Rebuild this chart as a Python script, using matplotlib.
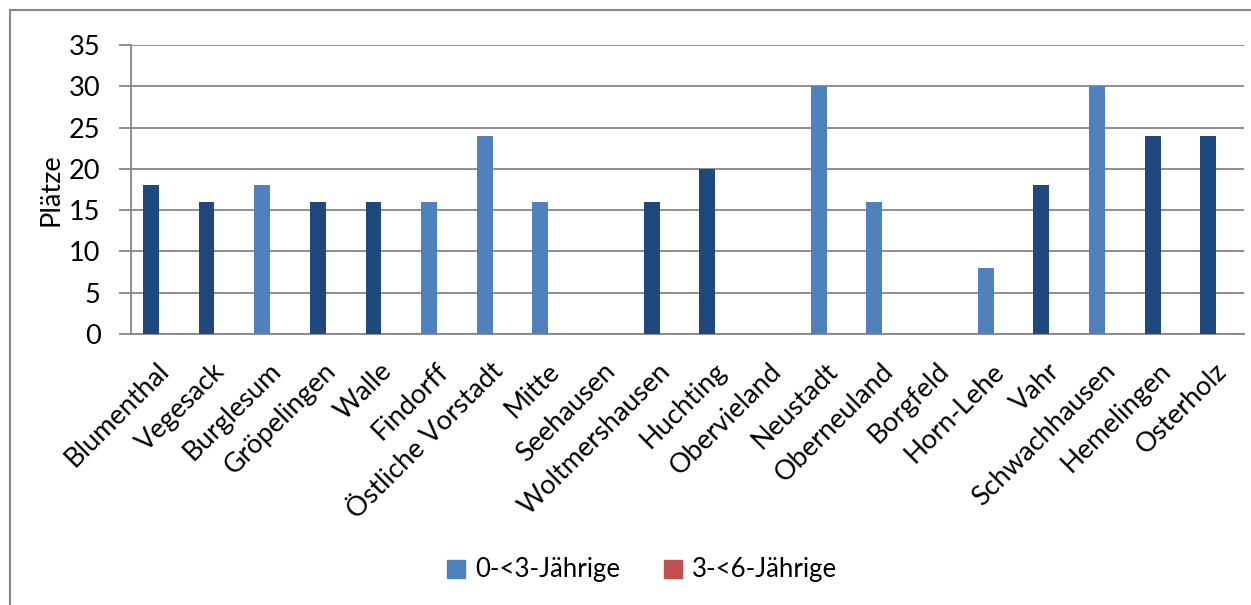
import numpy as np
import matplotlib.pyplot as plt
import matplotlib.transforms as mtransforms
from matplotlib.patches import Patch, Rectangle

# Data
stadtteile = ["Blumenthal", "Vegesack", "Burglesum", "Gröpelingen", "Walle", "Findorff",
              "Östliche Vorstadt", "Mitte", "Seehausen", "Woltmershausen", "Huchting",
              "Obervieland", "Neustadt", "Oberneuland", "Borgfeld", "Horn-Lehe", "Vahr",
              "Schwachhausen", "Hemelingen", "Osterholz"]
plaetze_u3 = [18, 16, 18, 16, 16, 16, 24, 16, 0, 16, 20, 0, 30, 16, 0, 8, 18, 30, 24, 24]
plaetze_3_6 = [0] * 20
dunkel = [1, 1, 0, 1, 1, 0, 0, 0, 0, 1, 1, 0, 0, 0, 0, 0, 1, 0, 1, 1]
series_labels = ["0-<3-Jährige", "3-<6-Jährige"]

c_light = "#4F81BD"
c_dark = "#1F497D"
c_red = "#C0504D"
grid_c = "#868686"

plt.rcParams['font.family'] = ['Lato', 'DejaVu Sans']
fs = 19.5

W, H = 1251, 605
fig = plt.figure(figsize=(W / 100, H / 100), dpi=100)
ax = fig.add_axes([131 / W, 1 - 334 / H, (1244 - 131) / W, (334 - 45) / H])

x = np.arange(len(stadtteile))
bw = 1 / 3.5
colors = [c_dark if d else c_light for d in dunkel]
ax.bar(x - bw / 2, plaetze_u3, width=bw, color=colors, zorder=3)
ax.bar(x + bw / 2, plaetze_3_6, width=bw, color=c_red, zorder=3)

ax.set_xlim(-0.5, len(stadtteile) - 0.5)
ax.set_ylim(0, 35)
ax.set_yticks(range(0, 36, 5))
ax.yaxis.grid(True, color=grid_c, linewidth=1.3, zorder=0)
ax.tick_params(axis='y', length=9, width=1.3, color=grid_c, labelsize=fs, pad=13)
ax.tick_params(axis='x', length=0, pad=6)
ax.set_xticks(x)
ax.set_xticklabels(stadtteile, rotation=45, ha='right', va='top',
                   rotation_mode='anchor', fontsize=fs)
offset = mtransforms.ScaledTranslation(-0.02, -0.16, fig.dpi_scale_trans)
for lbl in ax.get_xticklabels():
    lbl.set_transform(lbl.get_transform() + offset)
for s in ['top', 'right']:
    ax.spines[s].set_visible(False)
for s in ['left', 'bottom']:
    ax.spines[s].set_color(grid_c)
    ax.spines[s].set_linewidth(1.3)
ax.set_ylabel("Plätze", fontsize=fs, labelpad=4)

handles = [Patch(color=c_light), Patch(color=c_red)]
fig.legend(handles, series_labels, loc='center', bbox_to_anchor=(642 / W, 1 - 570 / H),
           ncol=2, frameon=False, fontsize=18.5, handlelength=0.7, handleheight=0.7,
           handletextpad=0.4, columnspacing=1.7)

fig.patches.append(Rectangle((10 / W, -0.1), 1.2, 1 - 10 / H + 0.1, transform=fig.transFigure,
                             fill=False, edgecolor=grid_c, linewidth=1.5))

fig.savefig("out.png", dpi=100)
